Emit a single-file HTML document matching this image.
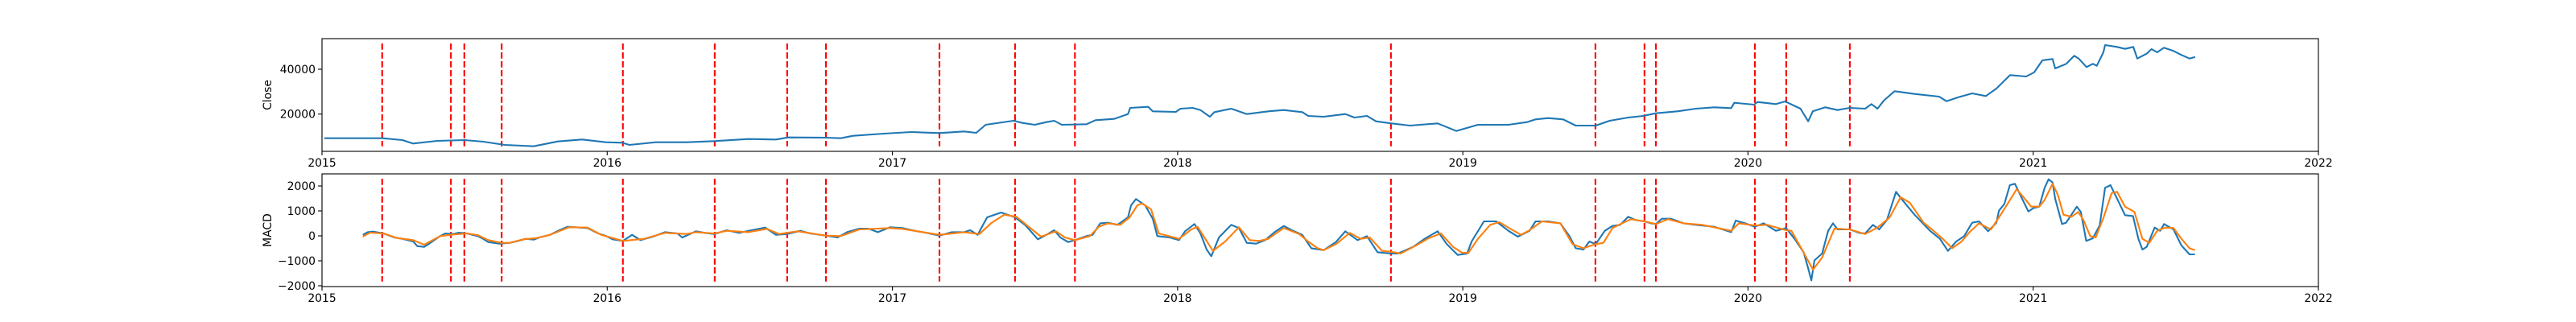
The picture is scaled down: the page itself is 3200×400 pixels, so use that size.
<!DOCTYPE html>
<html><head><meta charset="utf-8"><style>
html,body{margin:0;padding:0;background:#fff;}
svg{display:block;}
text{font-family:"DejaVu Sans","Liberation Sans",sans-serif;font-size:13.9px;fill:#000;}
</style></head><body>
<svg id="chart" width="3200" height="400" viewBox="0 0 3200 400" xmlns="http://www.w3.org/2000/svg">
<rect width="3200" height="400" fill="#fff"/>
<g id="top"></g>
<g id="bot"></g>
</svg>
<script>
// ---- data ----
const closeDates=[2015.008,2015.141,2015.212,2015.282,2015.319,2015.404,2015.500,2015.565,2015.641,2015.742,2015.827,2015.912,2015.996,2016.052,2016.078,2016.171,2016.279,2016.376,2016.495,2016.592,2016.635,2016.765,2016.819,2016.862,2016.970,2017.067,2017.165,2017.251,2017.294,2017.327,2017.424,2017.456,2017.499,2017.540,2017.567,2017.594,2017.681,2017.712,2017.777,2017.826,2017.834,2017.897,2017.913,2017.994,2018.010,2018.053,2018.080,2018.113,2018.129,2018.188,2018.243,2018.318,2018.372,2018.437,2018.458,2018.512,2018.588,2018.620,2018.664,2018.696,2018.750,2018.815,2018.912,2018.977,2019.053,2019.160,2019.225,2019.255,2019.299,2019.352,2019.396,2019.466,2019.515,2019.580,2019.633,2019.677,2019.752,2019.817,2019.882,2019.941,2019.952,2020.022,2020.033,2020.098,2020.130,2020.184,2020.211,2020.227,2020.271,2020.314,2020.357,2020.411,2020.433,2020.454,2020.476,2020.514,2020.584,2020.670,2020.696,2020.738,2020.786,2020.834,2020.871,2020.919,2020.975,2021.003,2021.032,2021.068,2021.077,2021.116,2021.144,2021.161,2021.187,2021.209,2021.223,2021.246,2021.252,2021.294,2021.322,2021.351,2021.365,2021.398,2021.415,2021.435,2021.458,2021.492,2021.520,2021.548,2021.568];
const closeValues=[9230,9230,9230,8400,6860,8045,8400,7690,6250,5640,7790,8660,7435,7220,6250,7435,7435,7940,8870,8660,9590,9480,9230,10300,11280,12000,11530,12250,11640,15230,17020,16050,15230,16410,17020,15230,15480,17270,17850,20000,22760,23230,21220,20970,22400,22760,21800,18820,20860,22400,20000,21220,21800,20860,19170,18820,20000,18460,19170,16770,15830,14870,15830,12460,15230,15230,16410,17630,18200,17630,14870,14870,17020,18460,19170,20360,21220,22400,23020,22660,25030,24200,25390,24450,25640,22400,16770,21220,23020,21800,22760,22400,24450,22400,26000,30200,28980,27790,25740,27540,29230,28040,31380,37380,36770,38560,43950,44560,40360,42400,46000,44560,40970,42400,41540,47540,50770,49940,49080,49940,44770,46930,48970,47540,49580,48150,46350,44770,45490];
const macdDates=[2015.143,2015.160,2015.179,2015.216,2015.254,2015.282,2015.320,2015.334,2015.358,2015.376,2015.414,2015.433,2015.461,2015.480,2015.508,2015.546,2015.565,2015.583,2015.621,2015.658,2015.687,2015.715,2015.743,2015.762,2015.800,2015.828,2015.861,2015.903,2015.931,2015.969,2015.997,2016.019,2016.055,2016.087,2016.117,2016.160,2016.203,2016.246,2016.263,2016.311,2016.343,2016.376,2016.419,2016.462,2016.506,2016.554,2016.592,2016.631,2016.678,2016.711,2016.767,2016.808,2016.841,2016.884,2016.916,2016.949,2016.992,2017.035,2017.078,2017.121,2017.165,2017.208,2017.251,2017.273,2017.299,2017.332,2017.381,2017.430,2017.467,2017.510,2017.540,2017.567,2017.589,2017.616,2017.640,2017.681,2017.702,2017.729,2017.756,2017.789,2017.826,2017.837,2017.854,2017.886,2017.913,2017.929,2017.972,2018.005,2018.026,2018.059,2018.080,2018.102,2018.118,2018.145,2018.188,2018.215,2018.243,2018.275,2018.307,2018.340,2018.372,2018.405,2018.437,2018.469,2018.512,2018.555,2018.588,2018.631,2018.664,2018.701,2018.748,2018.772,2018.826,2018.869,2018.912,2018.944,2018.982,2019.015,2019.031,2019.074,2019.117,2019.160,2019.193,2019.234,2019.255,2019.299,2019.342,2019.374,2019.396,2019.423,2019.444,2019.466,2019.498,2019.525,2019.552,2019.580,2019.606,2019.636,2019.660,2019.677,2019.698,2019.730,2019.774,2019.817,2019.882,2019.941,2019.957,2019.990,2020.024,2020.055,2020.098,2020.134,2020.163,2020.195,2020.211,2020.222,2020.233,2020.260,2020.281,2020.298,2020.314,2020.357,2020.390,2020.411,2020.438,2020.460,2020.487,2020.519,2020.541,2020.584,2020.638,2020.673,2020.701,2020.730,2020.758,2020.786,2020.810,2020.842,2020.871,2020.880,2020.899,2020.918,2020.936,2020.955,2020.983,2021.002,2021.021,2021.040,2021.054,2021.068,2021.077,2021.101,2021.115,2021.134,2021.153,2021.167,2021.186,2021.209,2021.233,2021.252,2021.271,2021.294,2021.322,2021.350,2021.369,2021.383,2021.398,2021.426,2021.445,2021.459,2021.492,2021.520,2021.548,2021.567];
const macdValues=[42,150,170,97,-65,-118,-226,-410,-441,-312,-11,97,75,129,97,-11,-118,-247,-312,-280,-204,-118,-150,-65,42,204,365,333,312,97,-11,-140,-204,42,-172,-32,150,97,-65,183,118,75,226,118,226,333,42,75,204,97,11,-65,150,290,290,150,344,312,204,118,11,150,150,226,42,742,936,742,419,-140,42,226,-65,-247,-172,-11,42,505,527,441,742,1226,1473,1226,688,-11,-65,-172,183,473,97,-548,-817,-65,441,312,-280,-312,-172,150,398,204,42,-495,-570,-247,183,-172,-11,-656,-710,-710,-441,-97,183,-333,-764,-710,-226,581,581,204,-32,204,581,581,505,-11,-495,-548,-226,-333,204,398,441,764,635,581,505,473,688,688,505,441,365,150,613,505,365,505,204,312,-118,-656,-1301,-1785,-979,-710,204,505,258,258,118,97,441,258,635,1764,1441,849,204,-118,-602,-226,-11,527,581,183,527,1011,1280,2032,2086,1634,978,1119,1172,1925,2269,2139,1494,473,527,849,1172,957,-204,-97,419,1925,2032,1494,828,795,-118,-548,-441,333,204,473,258,-387,-742,-742];
const signalDates=[2015.143,2015.169,2015.216,2015.263,2015.320,2015.358,2015.414,2015.461,2015.508,2015.546,2015.583,2015.630,2015.658,2015.706,2015.753,2015.800,2015.866,2015.931,2015.979,2016.055,2016.128,2016.203,2016.279,2016.311,2016.376,2016.419,2016.495,2016.560,2016.603,2016.668,2016.767,2016.819,2016.884,2016.992,2017.035,2017.165,2017.251,2017.305,2017.348,2017.392,2017.435,2017.478,2017.521,2017.573,2017.605,2017.640,2017.692,2017.724,2017.756,2017.799,2017.832,2017.859,2017.875,2017.907,2017.934,2018.005,2018.048,2018.070,2018.091,2018.124,2018.167,2018.215,2018.253,2018.286,2018.318,2018.372,2018.426,2018.458,2018.491,2018.512,2018.555,2018.604,2018.642,2018.674,2018.717,2018.748,2018.782,2018.836,2018.880,2018.923,2018.966,2018.998,2019.020,2019.053,2019.096,2019.128,2019.171,2019.204,2019.234,2019.277,2019.342,2019.385,2019.423,2019.466,2019.493,2019.525,2019.558,2019.590,2019.637,2019.677,2019.720,2019.774,2019.839,2019.941,2019.968,2020.024,2020.066,2020.134,2020.152,2020.184,2020.228,2020.260,2020.303,2020.357,2020.411,2020.454,2020.497,2020.535,2020.567,2020.616,2020.645,2020.683,2020.716,2020.749,2020.777,2020.810,2020.852,2020.880,2020.904,2020.942,2020.970,2020.993,2021.021,2021.040,2021.068,2021.087,2021.106,2021.134,2021.158,2021.176,2021.200,2021.219,2021.247,2021.275,2021.294,2021.322,2021.355,2021.383,2021.407,2021.435,2021.463,2021.492,2021.520,2021.548,2021.567];
const signalValues=[-32,129,97,-86,-172,-355,-11,54,97,32,-172,-280,-280,-140,-86,42,344,333,42,-204,-118,118,75,150,97,204,150,280,75,183,11,-11,258,312,280,42,150,75,527,849,764,365,-32,183,-65,-172,-11,365,505,441,742,1226,1301,1065,97,-118,258,365,-11,-602,-226,344,-172,-204,-118,312,75,-226,-495,-570,-333,118,-118,-65,-602,-635,-710,-387,-97,97,-441,-677,-677,-118,441,548,258,42,226,581,505,-333,-495,-333,-280,312,505,667,581,473,667,505,441,204,505,419,441,226,204,-441,-1355,-871,290,258,75,333,742,1548,1333,527,258,-118,-495,-226,150,505,258,742,1172,1871,1494,1172,1172,1441,2086,1634,849,764,957,635,-11,-65,742,1710,1764,1172,957,-118,-280,204,333,312,-118,-495,-570];
const eventDates=[2015.211,2015.452,2015.499,2015.630,2016.055,2016.377,2016.631,2016.767,2017.165,2017.430,2017.640,2018.748,2019.465,2019.637,2019.677,2020.024,2020.134,2020.357];
const yearTicks=[2015,2016,2017,2018,2019,2020,2021,2022];
const closeTicks=[20000,40000];
const macdTicks=[-2000,-1000,0,1000,2000];

// ---- layout ----
const NS="http://www.w3.org/2000/svg";
const L=400,R=2880;
const xDom=[2015,2022];
const x=d=>L+(d-xDom[0])/(xDom[1]-xDom[0])*(R-L);
function mk(tag,attrs,parent){const e=document.createElementNS(NS,tag);for(const k in attrs)e.setAttribute(k,attrs[k]);parent.appendChild(e);return e;}

function panel(g,top,bot,yMin,yMax,ticks,label,series,nameKey){
  const y=v=>bot-(v-yMin)/(yMax-yMin)*(bot-top);
  const h=bot-top;
  // events
  eventDates.forEach(d=>{
    const ln=mk('line',{x1:x(d),x2:x(d),y1:top+h*0.043,y2:top+h*0.955,stroke:'#ff0000','stroke-width':2.1,'stroke-dasharray':'7.7,3.3'},g);
    
    
  });
  series.forEach(s=>{
    let dstr='';
    s.d.forEach((dd,i)=>{dstr+=(i?'L':'M')+x(dd).toFixed(1)+','+y(s.v[i]).toFixed(1);});
    const p=mk('path',{d:dstr,fill:'none',stroke:s.c,'stroke-width':2.1,'stroke-linejoin':'round'},g);
    
    
  });
  const fr=mk('rect',{x:L,y:top,width:R-L,height:h,fill:'none',stroke:'#000','stroke-width':1.1},g);
  
  
  yearTicks.forEach(t=>{
    mk('line',{x1:x(t),x2:x(t),y1:bot,y2:bot+4.9,stroke:'#000','stroke-width':1.1},g);
    const tx=mk('text',{x:x(t),y:bot+19,'text-anchor':'middle'},g);
    tx.textContent=t;
    
    
  });
  ticks.forEach(t=>{
    mk('line',{x1:L-4.9,x2:L,y1:y(t),y2:y(t),stroke:'#000','stroke-width':1.1},g);
    const tx=mk('text',{x:L-8,y:y(t)+5,'text-anchor':'end'},g);
    tx.textContent=(t<0?'\u2212'+Math.abs(t):t);
    
    
  });
  const cy=(top+bot)/2;
  const yl=mk('text',{x:0,y:0,'text-anchor':'middle',transform:`translate(337,${cy}) rotate(-90)`},g);
  yl.textContent=label;
  
  
}
panel(document.getElementById('top'),48,188,3374,53650,closeTicks,'Close',
  [{d:closeDates,v:closeValues,c:'#1f77b4',n:'close-line'}],'close');
panel(document.getElementById('bot'),216,356,-2032,2484,macdTicks,'MACD',
  [{d:macdDates,v:macdValues,c:'#1f77b4',n:'macd-line'},{d:signalDates,v:signalValues,c:'#ff7f0e',n:'signal-line'}],'macd');
</script>
</body></html>
